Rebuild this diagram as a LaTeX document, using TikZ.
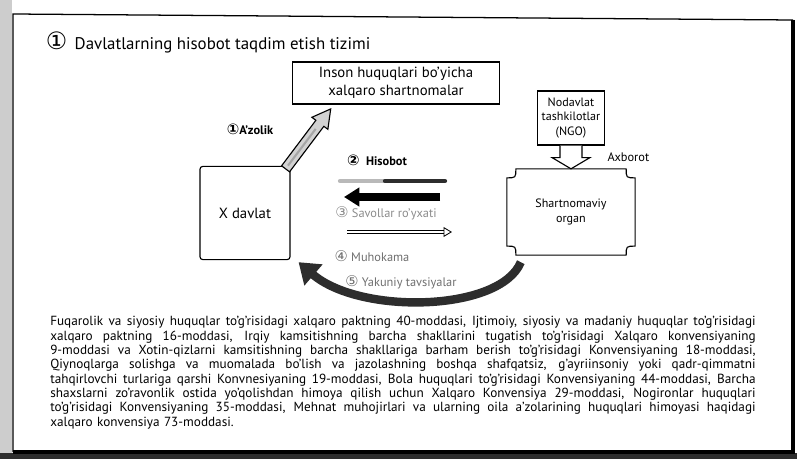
\documentclass[tikz,border=0pt]{standalone}
\usepackage{fontspec}
\setmainfont{PT Sans}
\newfontfamily\symfont{DejaVu Sans}
\usepackage{tikz}
\usetikzlibrary{positioning,arrows.meta,calc}
\definecolor{inkgrey}{RGB}{45,45,45}
\definecolor{softgrey}{RGB}{110,110,110}
\definecolor{scangrey}{RGB}{205,205,205}
\newcommand{\cnum}[1]{{\symfont\fontsize{10.5}{10}\selectfont #1}}
\newcommand{\jline}[1]{\makebox[17.63cm][s]{\spaceskip=0.26em plus 2em minus 0.05em\relax #1}\\}

\begin{document}
\begin{tikzpicture}[
    x=0.025cm, y=-0.025cm,
    >=Latex,
    box/.style={
        draw,
        line width=0.8pt,
        align=center,
        inner sep=1pt,
        font=\fontsize{10.5}{12.5}\selectfont
    },
    smallbox/.style={
        draw,
        line width=0.8pt,
        align=center,
        inner sep=1pt,
        font=\fontsize{8.6}{10}\selectfont
    },
    steplabel/.style={
        font=\fontsize{8.8}{10}\selectfont,
        inner sep=1pt
    },
    arrow/.style={line width=0.8pt}
]
\useasboundingbox (0,0) rectangle (797,459);

% scanned page edges
\fill[scangrey] (0,0) rectangle (12,459);
\fill[inkgrey] (0,453) rectangle (797,459);
\draw[line width=0.9pt] (13,452) -- (13,14) -- (793,20);
\draw[line width=2.2pt] (793,20) -- (793,452) -- (13,452);

% TITLE
\node[anchor=west, font=\fontsize{12}{14}\selectfont] (title) at (41,42)
{{\symfont\fontsize{17}{17}\selectfont ①}\, Davlatlarning hisobot taqdim etish tizimi};

% BOXES
\node[box, minimum width=5.18cm, minimum height=1.05cm] (treaty) at (396,83)
{Inson huquqlari bo'yicha\\xalqaro shartnomalar};

\node[box, minimum width=2.25cm, minimum height=2.33cm, rounded corners=2pt] (state) at (245,213)
{X davlat};

\node[smallbox, draw=none, minimum width=3.18cm, minimum height=2.13cm] (organ) at (571,212)
{Shartnomaviy\\organ};

\draw[arrow] ($(organ.north west)+(9,0)$) -- ($(organ.north east)+(-9,0)$)
    .. controls ($(organ.north east)+(-9,9)$) .. ($(organ.north east)+(0,9)$)
    -- ($(organ.south east)+(0,-9)$)
    .. controls ($(organ.south east)+(-9,-9)$) .. ($(organ.south east)+(-9,0)$)
    -- ($(organ.south west)+(9,0)$)
    .. controls ($(organ.south west)+(9,-9)$) .. ($(organ.south west)+(0,-9)$)
    -- ($(organ.north west)+(0,9)$)
    .. controls ($(organ.north west)+(9,9)$) .. cycle;

\node[smallbox, minimum width=1.68cm, minimum height=1.35cm] (ngo) at (571,118)
{Nodavlat\\tashkilotlar\\(NGO)};

% NGO -> ORGAN
\draw[arrow, fill=white] ($(ngo.south)+(-11,0)$) -- ++(0,12) -- ++(-8,0)
    -- (organ.north) -- ($(ngo.south)+(19,12)$) -- ++(-8,0) -- ($(ngo.south)+(11,0)$);
\node[steplabel, anchor=west] (info) at (606,157) {Axborot};

% MEMBERSHIP
\begin{scope}[shift={($(state.north east)+(-5,3)$)}, rotate=53]
\draw[arrow, fill=gray!35] (0,-5) -- (57,-5) -- (57,-10) -- (75,0) -- (57,10) -- (57,5) -- (0,5) -- cycle;
\draw[gray!70, line width=1.5pt] (4,0) -- (50,0);
\end{scope}
\node[steplabel, font=\fontsize{8.8}{10}\selectfont\bfseries] (member) at (250,129)
{\cnum{①}A'zolik};

% REPORT
\node[steplabel, font=\fontsize{8.8}{10}\selectfont\bfseries] (report) at (377,160)
{\cnum{②}\; Hisobot};
\coordinate (repL) at (340,181);
\coordinate (repM) at (385,181);
\coordinate (repR) at (445,181);
\draw[line width=3pt, gray!55, line cap=round] (repL) -- (repM);
\draw[line width=3pt, inkgrey, line cap=round] (repM) -- (repR);

% QUESTIONS
\coordinate (qR) at (440,197);
\coordinate (qL) at (344,197);
\draw[line width=5pt, -{Triangle[length=11pt,width=13pt]}] (qR) -- (qL);
\node[steplabel, text=softgrey!80] (questions) at (386,213)
{\cnum{③} Savollar ro'yxati};

% DISCUSSION
\coordinate (dL) at (347,232);
\coordinate (dR) at (452,232);
\draw[double, double distance=1.6pt, line width=0.6pt, -{Triangle[open,length=6pt,width=7pt]}] (dL) -- (dR);
\node[steplabel, text=softgrey] (discussion) at (372,256)
{\cnum{④} Muhokama};

% RECOMMENDATIONS
\draw[line width=6pt, inkgrey, -{Triangle[length=14pt,width=19pt]}]
    ($(organ.south west)+(14,7)$) .. controls (500,312) and (360,315) .. ($(state.south east)+(8,2)$);
\node[steplabel, text=softgrey] (final) at (401,282)
{\cnum{⑤} Yakuniy tavsiyalar};

% ARTICLES
\node[anchor=north west, text width=17.63cm, align=left, inner sep=0pt,
      font=\fontsize{9.4}{10.2}\selectfont] (articles) at (50,316)
{\jline{Fuqarolik va siyosiy huquqlar to'g'risidagi xalqaro paktning 40-moddasi, Ijtimoiy, siyosiy va madaniy huquqlar to'g'risidagi}
\jline{xalqaro paktning 16-moddasi, Irqiy kamsitishning barcha shakllarini tugatish to'g'risidagi Xalqaro konvensiyaning}
\jline{9-moddasi va Xotin-qizlarni kamsitishning barcha shakllariga barham berish to'g'risidagi Konvensiyaning 18-moddasi,}
\jline{Qiynoqlarga solishga va muomalada bo'lish va jazolashning boshqa shafqatsiz, g'ayriinsoniy yoki qadr-qimmatni}
\jline{tahqirlovchi turlariga qarshi Konvnesiyaning 19-moddasi, Bola huquqlari to'g'risidagi Konvensiyaning 44-moddasi, Barcha}
\jline{shaxslarni zo'ravonlik ostida yo'qolishdan himoya qilish uchun Xalqaro Konvensiya 29-moddasi, Nogironlar huquqlari}
\jline{to'g'risidagi Konvensiyaning 35-moddasi, Mehnat muhojirlari va ularning oila a'zolarining huquqlari himoyasi haqidagi}
xalqaro konvensiya 73-moddasi.};

\end{tikzpicture}
\end{document}
